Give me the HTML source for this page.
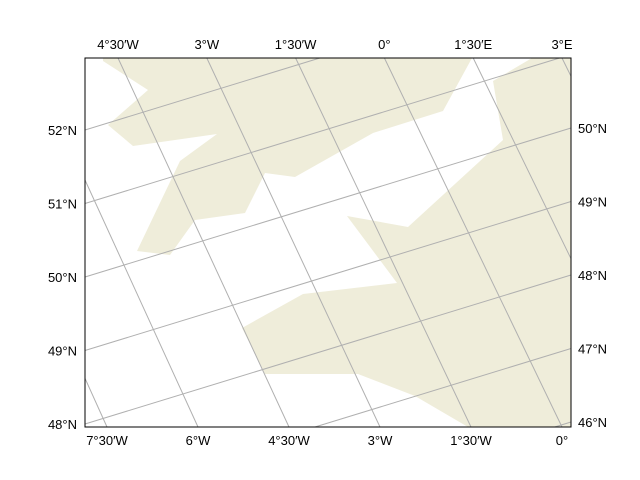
<!DOCTYPE html>
<html><head><meta charset="utf-8"><style>
html,body{margin:0;padding:0;background:#fff;overflow:hidden;width:640px;height:480px;}
svg{display:block;}
svg text{font-family:"Liberation Sans",sans-serif;font-size:13px;fill:#000;}
</style></head><body>
<svg id="chart" width="640" height="480" viewBox="0 0 640 480" xmlns="http://www.w3.org/2000/svg">
<rect x="0" y="0" width="640" height="480" fill="#fff"/>
<polygon fill="#efedda" points="103,58 472,58 443,111 373,133 295,177 265,173 245,213 195,220 170,255 137,251 180,161 217,134 133,146 108,125 148,90 103,61"/>
<polygon fill="#efedda" points="347,216 408,227 503,140 493,81 532,58 571,58 571,427 468,427 415,396 358,374 265,374 242,328 303,294 397,283"/>
<g id="grid"></g>
<rect x="85" y="58" width="486" height="369" fill="none" stroke="#000" stroke-width="1"/>
<g id="labels"></g>
</svg>
<script>
// gridline index and labels
const meridianIdx = [-2,-1,0,1,2,3,4,5];
const topLabels = ["4°30′W","3°W","1°30′W","0°","1°30′E","3°E"];
const topLabelIdx = [0,1,2,3,4,5];
const bottomLabels = ["7°30′W","6°W","4°30′W","3°W","1°30′W","0°"];
const bottomLabelIdx = [-2,-1,0,1,2,3];
const parallelIdx = [-1,0,1,2,3,4,5,6];
const leftLabels = ["52°N","51°N","50°N","49°N","48°N"];
const leftLabelIdx = [0,1,2,3,4];
const rightLabels = ["50°N","49°N","48°N","47°N","46°N"];
const rightLabelIdx = [2,3,4,5,6];

const X0=85,X1=571,Y0=58,Y1=427;
const topX = i => 118 + 88.8*i;
const botX = i => 289 + 91*i;
const leftY = j => 130 + 73.5*j;
const rightY = j => leftY(j) - 149;
const NS = "http://www.w3.org/2000/svg";
const grid = document.getElementById('grid');
const labels = document.getElementById('labels');
// Liang-Barsky clip to frame
function clip(x1,y1,x2,y2){
  let t0=0,t1=1;const dx=x2-x1,dy=y2-y1;
  const p=[-dx,dx,-dy,dy],q=[x1-X0,X1-x1,y1-Y0,Y1-y1];
  for(let k=0;k<4;k++){
    if(p[k]===0){if(q[k]<0)return null;continue;}
    const r=q[k]/p[k];
    if(p[k]<0){if(r>t1)return null;if(r>t0)t0=r;}
    else{if(r<t0)return null;if(r<t1)t1=r;}
  }
  return [x1+t0*dx,y1+t0*dy,x1+t1*dx,y1+t1*dy];
}
function line(a,b,c,d,name){
  const s=clip(a,b,c,d); if(!s) return;
  const l=document.createElementNS(NS,'line');
  l.setAttribute('x1',s[0]);l.setAttribute('y1',s[1]);l.setAttribute('x2',s[2]);l.setAttribute('y2',s[3]);
  l.setAttribute('stroke','#b0b0b0');l.setAttribute('stroke-width','1');
  
  
  grid.appendChild(l);
}
meridianIdx.forEach(i=>line(topX(i),Y0,botX(i),Y1,'meridian-line'));
parallelIdx.forEach(j=>line(X0,leftY(j),X1,rightY(j),'parallel-line'));
function text(x,y,s,anchor,name){
  const t=document.createElementNS(NS,'text');
  t.setAttribute('x',x);t.setAttribute('y',y);t.setAttribute('text-anchor',anchor);
  t.textContent=s;
  
  
  labels.appendChild(t);
}
topLabels.forEach((s,k)=>text(topX(topLabelIdx[k]),49,s,'middle','top-lon-label'));
bottomLabels.forEach((s,k)=>text(botX(bottomLabelIdx[k]),445,s,'middle','bottom-lon-label'));
leftLabels.forEach((s,k)=>text(77,leftY(leftLabelIdx[k])+5,s,'end','left-lat-label'));
rightLabels.forEach((s,k)=>text(578,rightY(rightLabelIdx[k])+5,s,'start','right-lat-label'));
</script>
</body></html>
